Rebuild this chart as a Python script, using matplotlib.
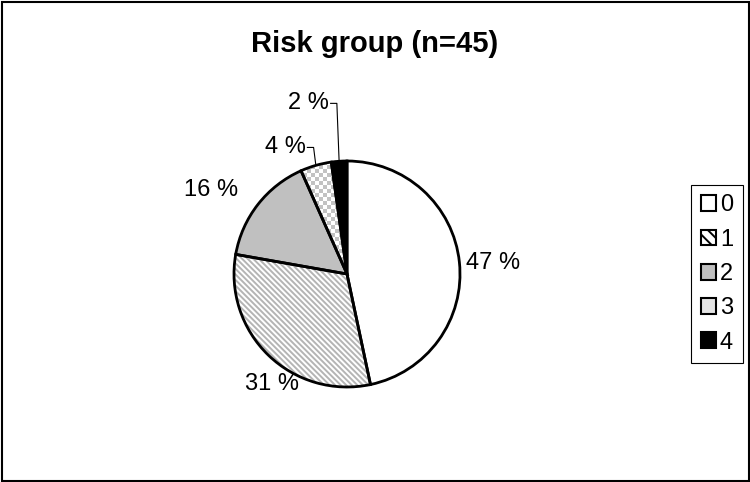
import matplotlib
matplotlib.use('Agg')
import matplotlib.pyplot as plt
from matplotlib.patches import Patch, Rectangle
import numpy as np

plt.rcParams['font.family'] = ['Liberation Sans', 'DejaVu Sans']
plt.rcParams['hatch.linewidth'] = 1.4

# counts per risk group (n=45)
GROUPS = ['0', '1', '2', '3', '4']
COUNTS = [21, 14, 7, 2, 1]
TITLE = 'Risk group (n=45)'

# styling per slice
FACES = ['white', 'white', '#c0c0c0', 'white', 'black']
HATCHES = [None, '\\\\\\\\\\\\', None, None, None]

# label text centres (data units, radius 1) for the big slices
LABEL_POS = {0: (1.29, 0.10), 1: (-0.66, -0.97), 2: (-1.20, 0.74)}
# leader-line label height for the small slices
LEADER_Y = {3: 1.12, 4: 1.51}

R_PX = 113.0
CX, CY = 347.0, 274.0
W, H = 750, 482

fig = plt.figure(figsize=(7.5, 4.82), dpi=100)
half = 1.2 * R_PX
ax = fig.add_axes([(CX - half) / W, (H - CY - half) / H, 2 * half / W, 2 * half / H])
ax.set_xlim(-1.2, 1.2)
ax.set_ylim(-1.2, 1.2)
ax.axis('off')

# base fills
wedges, _ = ax.pie(COUNTS, startangle=90, counterclock=False, radius=1.0,
                   colors=FACES, wedgeprops=dict(linewidth=0))
wedges[1].set_hatch(HATCHES[1])
wedges[1].set_edgecolor('#b4b4b4')
wedges[1].set_linewidth(0)

# checker texture for slice 3
cell = 4.0 / R_PX
n = int(2.2 / cell)
ii, jj = np.indices((n, n))
checker = np.where((ii + jj) % 2 == 0, 0.76, 1.0)
im = ax.imshow(checker, cmap='gray', vmin=0, vmax=1, extent=(-1.1, 1.1, -1.1, 1.1),
               interpolation='nearest', zorder=1.5)
im.set_clip_path(wedges[3])

# black outlines on top
outl, _ = ax.pie(COUNTS, startangle=90, counterclock=False, radius=1.0,
                 wedgeprops=dict(fill=False, edgecolor='black', linewidth=2))
for w in outl:
    w.set_zorder(3)
ax.set_xlim(-1.2, 1.2)
ax.set_ylim(-1.2, 1.2)
ax.set_aspect('auto')

total = sum(COUNTS)
for i, (w, c) in enumerate(zip(wedges, COUNTS)):
    txt = f'{round(100 * c / total)} %'
    if i in LABEL_POS:
        x, y = LABEL_POS[i]
        ax.text(x, y, txt, ha='center', va='center', fontsize=17, clip_on=False)
    else:
        mid = np.deg2rad((w.theta1 + w.theta2) / 2)
        axx, ayy = np.cos(mid), np.sin(mid)
        ky = LEADER_Y[i]
        kx = axx - 0.02
        ax.plot([axx, kx, kx - 0.055], [ayy, ky, ky], color='black', lw=0.8,
                zorder=4, clip_on=False)
        ax.text(kx - 0.07, ky, txt, ha='right', va='center', fontsize=17, clip_on=False)

fig.text(375 / W, 1 - 44 / H, TITLE, ha='center', va='center', fontsize=21, fontweight='bold')

handles = []
for i, g in enumerate(GROUPS):
    if i == 3:
        handles.append(Patch(facecolor='#e4e4e4', edgecolor='black', lw=1.5))
    elif i == 1:
        handles.append(Patch(facecolor='white', edgecolor='black', hatch='\\\\\\', lw=1.5))
    else:
        handles.append(Patch(facecolor=FACES[i], edgecolor='black', lw=1.5))
leg = fig.legend(handles, GROUPS, loc='center left', bbox_to_anchor=(691 / W, (H - 274) / H),
                 frameon=True, fancybox=False, edgecolor='black', framealpha=1,
                 fontsize=17, labelspacing=0.52, handlelength=0.65, handleheight=0.65,
                 handletextpad=0.15, borderpad=0.42, borderaxespad=0)
leg.get_frame().set_linewidth(0.8)

fig.patches.append(Rectangle((0.002, 0.002), 0.996, 0.994, transform=fig.transFigure,
                             fill=False, edgecolor='black', linewidth=1.5))

fig.savefig('out.png', dpi=100)
